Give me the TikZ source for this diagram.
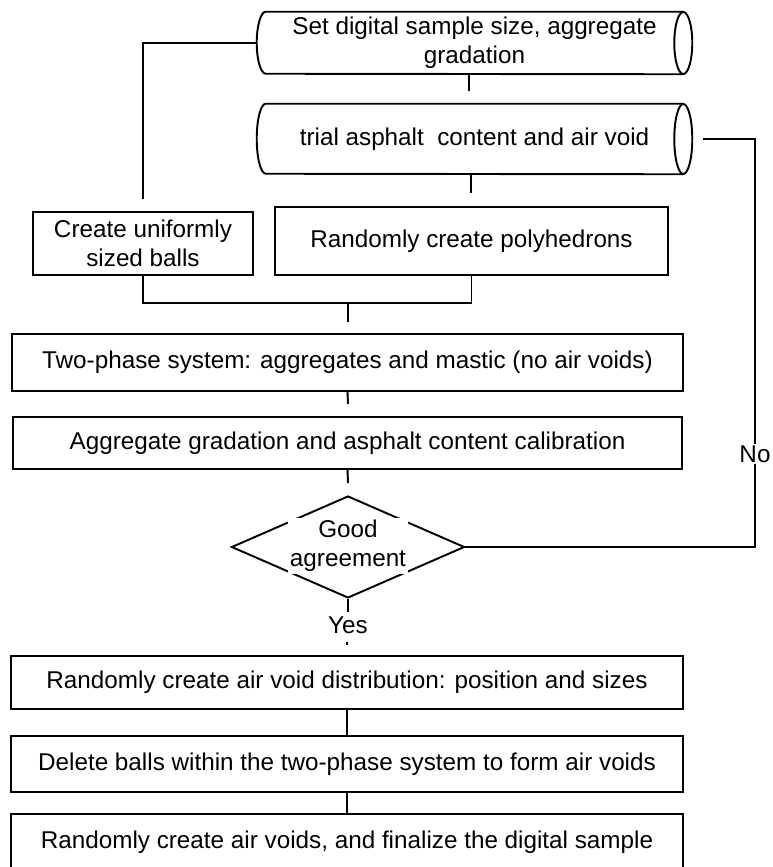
\documentclass[tikz,border=0pt]{standalone}
\usepackage{fontspec}
\setmainfont{Liberation Sans}
\usetikzlibrary{shapes.geometric}

\begin{document}
\begin{tikzpicture}[x=0.75pt,y=-0.75pt,
  every node/.style={font=\fontsize{18.2}{21.5}\selectfont},
  line/.style={line width=1.45pt},
  procbox/.style={draw, line width=1.45pt, rectangle, inner sep=0pt, align=center},
  cylbody/.style={rectangle, inner sep=0pt, align=center},
  decision/.style={draw, line width=1.45pt, diamond, inner sep=0pt, aspect=2.28},
  lbl/.style={fill=white, inner sep=1.5pt, align=center}]

\useasboundingbox (0,0) rectangle (773,867);
\clip (0,0) rectangle (773,867);

% --- input cylinders ---
\node[cylbody, minimum width=312.75pt, minimum height=46.5pt] (c1) at (474.5,43)
  {Set digital sample size, aggregate\\gradation};
\draw[line] (c1.north east) -- (c1.north west)
  arc[start angle=90, end angle=270, x radius=6.75pt, y radius=23.25pt] -- (c1.south east);
\draw[line] (c1.east) ellipse [x radius=6.75pt, y radius=23.25pt];

\node[cylbody, minimum width=312.75pt, minimum height=52.5pt] (c2) at (474.5,139)
  {trial asphalt~ content and air void};
\draw[line] (c2.north east) -- (c2.north west)
  arc[start angle=90, end angle=270, x radius=6.75pt, y radius=26.25pt] -- (c2.south east);
\draw[line] (c2.east) ellipse [x radius=6.75pt, y radius=26.25pt];

% --- particle generation ---
\node[procbox, minimum width=165pt, minimum height=47.25pt] (b1) at (143,243.5)
  {Create uniformly\\sized balls};
\node[procbox, minimum width=294.75pt, minimum height=51pt] (b2) at (471.5,241)
  {Randomly create polyhedrons};

% --- two-phase system and calibration ---
\node[procbox, minimum width=503.25pt, minimum height=42.75pt] (t1) at (347.5,362.5)
  {Two-phase system: aggregates and mastic (no air voids)};
\node[procbox, minimum width=501.75pt, minimum height=39pt] (t2) at (347.5,443)
  {Aggregate gradation and asphalt content calibration};

\node[decision, minimum width=174.75pt, minimum height=76.5pt] (d) at (348,547) {};
\node[lbl] (dtxt) at (348,546) {Good\\agreement};

% --- air void stage ---
\node[procbox, minimum width=504pt, minimum height=39.75pt] (ba) at (347,682.5)
  {Randomly create air void distribution: position and sizes};
\node[procbox, minimum width=504pt, minimum height=42pt] (bb) at (347,764)
  {Delete balls within the two-phase system to form air voids};
\node[procbox, minimum width=504pt, minimum height=42pt] (bc) at (347,842)
  {Randomly create air voids, and finalize the digital sample};

% --- connector end points ---
\coordinate (k0) at (143,199);
\coordinate (k1) at (469,91);
\coordinate (k2) at (471,193);
\coordinate (m)  at (348,303);
\coordinate (k3) at (348,322);
\coordinate (k4) at (348,404);
\coordinate (k5) at (348,483);
\coordinate (k6) at (348,612);
\coordinate (dot1) at (347,642);
\coordinate (dot2) at (347,644.5);
\coordinate (nostart) at (703,139);
\coordinate (noturn) at (755,139);

% --- connectors ---
\draw[line] ([xshift=-6.75pt]c1.west) -| (k0);
\draw[line] (k1 |- c1.south) -- (k1);
\draw[line] (k2 |- c2.south) -- (k2);
\draw[line] (b1.south) -- (b1.south |- m) -- (b2.south |- m) -- (b2.south);
\draw[line] (m) -- (k3);
\draw[line] (t1.south) -- (k4);
\draw[line] (t2.south) -- (k5);
\draw[line] (d.south) -- (k6);
\node (yes) at (348,625) {Yes};
\draw[line] (dot1) -- (dot2);
\draw[line] (ba.south) -- (bb.north);
\draw[line] (bb.south) -- (bc.north);

% loop back when agreement is not reached
\draw[line] (nostart) -- (noturn) |- (d.east);
\node[lbl] (nolbl) at (755,454) {No};

\end{tikzpicture}
\end{document}
